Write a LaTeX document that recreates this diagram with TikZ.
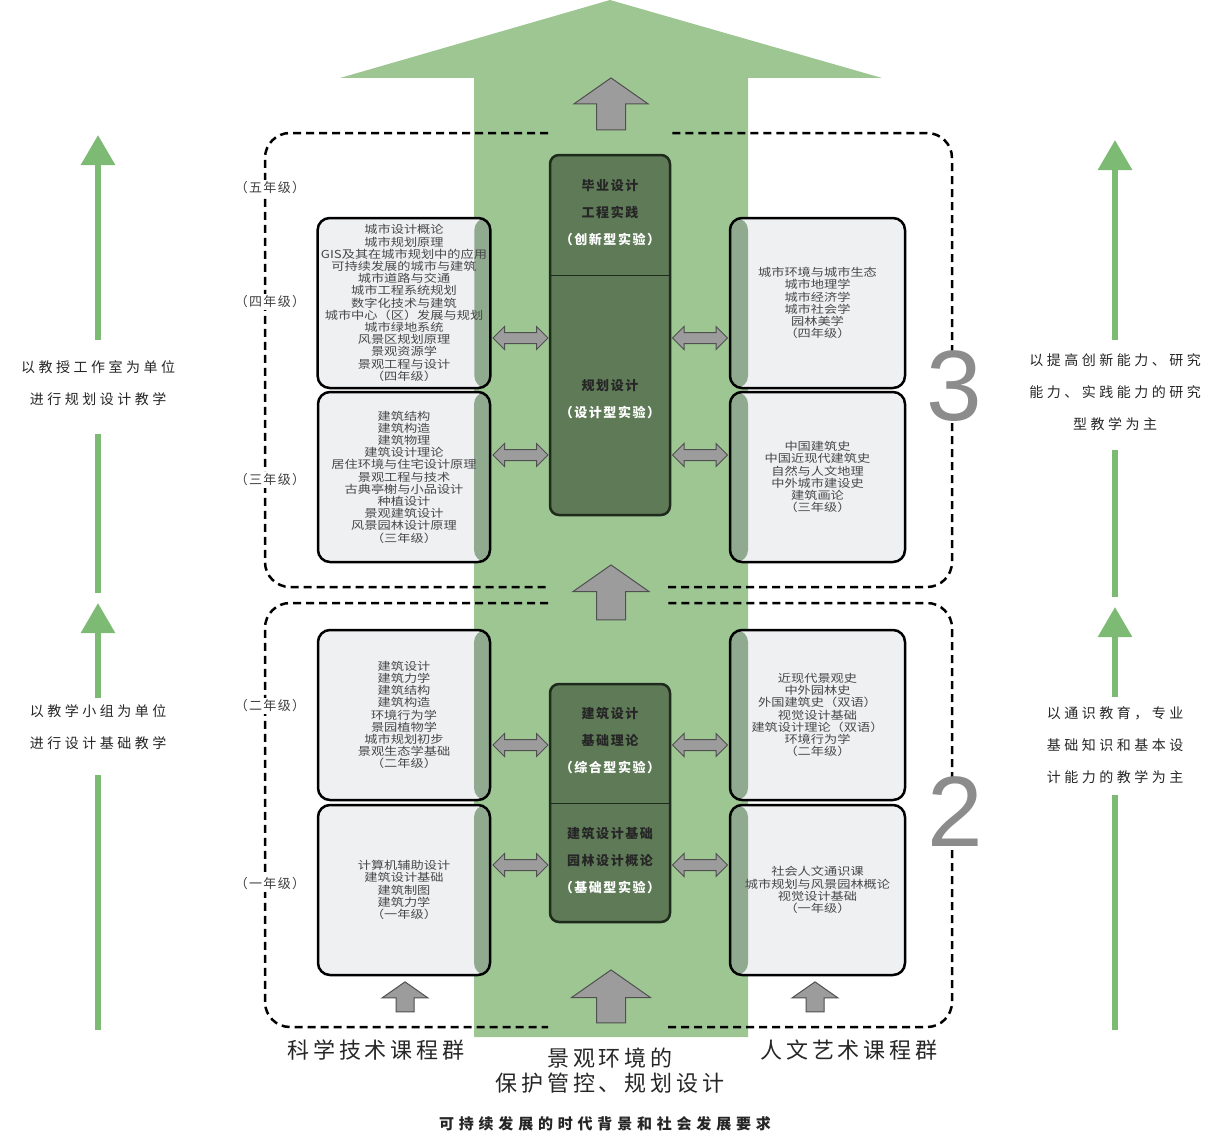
\documentclass[tikz,border=0pt]{standalone}
\usepackage{fontspec}
\setmainfont{Noto Sans CJK SC}
\newfontfamily\boxfont[FakeStretch=1.2]{Noto Sans CJK SC}
\newfontfamily\numfont{Liberation Sans}
\usetikzlibrary{arrows.meta,positioning,shapes.arrows}
\newcommand\spaced[1]{\addfontfeature{LetterSpace=#1}}
\definecolor{bigGreen}{HTML}{9EC693}
\definecolor{sideGreen}{HTML}{7DBB74}
\definecolor{ovlGreen}{HTML}{8FAA8F}
\definecolor{boxGray}{HTML}{EEF0F2}
\definecolor{boxText}{HTML}{484848}
\definecolor{coreGreen}{HTML}{5E7A56}
\definecolor{coreLine}{HTML}{1E2A1C}
\definecolor{arrGray}{HTML}{9C9C9C}
\definecolor{arrLine}{HTML}{505050}
\definecolor{numGray}{HTML}{8C8C8C}

\begin{document}
\begin{tikzpicture}[
  x=1pt, y=-1pt,
  lbox/.style={draw, line width=2.5pt, rounded corners=12pt, fill=boxGray,
               outer sep=0pt, minimum width=172pt, minimum height=170pt,
               align=center, text=boxText,
               font=\boxfont\fontsize{11}{12.2}\selectfont},
  rbox/.style={lbox, minimum width=175pt},
  inR/.style={path picture={\fill[ovlGreen]
     ([xshift=-16pt]path picture bounding box.south east)
     rectangle (path picture bounding box.north east);}},
  inL/.style={path picture={\fill[ovlGreen]
     (path picture bounding box.south west)
     rectangle ([xshift=18pt]path picture bounding box.north west);}},
  core/.style={draw=coreLine, line width=2.5pt, rounded corners=9pt,
               fill=coreGreen, minimum width=120pt, outer sep=0pt},
  ctext/.style={align=center, text=black!85,
                font=\fontsize{13}{27}\selectfont\bfseries\spaced{12}},
  grade/.style={fill=white, inner sep=2pt, text=black!75,
                font=\fontsize{13}{15}\selectfont\spaced{10}},
  side/.style={align=center, text=black!85,
               font=\fontsize{14}{32}\selectfont\spaced{25}},
  group/.style={align=center, text=black!85, inner sep=0pt,
                font=\fontsize{22}{25}\selectfont\spaced{18}},
  bignum/.style={fill=white, inner sep=0pt, text=numGray,
                 font=\numfont\fontsize{100}{100}\selectfont},
  dashbox/.style={line width=2.5pt, dash pattern=on 8pt off 5pt,
                  rounded corners=25pt},
  garr/.style={single arrow, draw=arrLine, fill=arrGray, line width=1pt,
               rotate=90, inner xsep=0pt, outer sep=0pt,
               single arrow head indent=0pt, single arrow tip angle=110},
  dblarr/.style={double arrow, draw=arrLine, fill=arrGray, line width=1pt,
                 inner xsep=0pt, inner ysep=5pt, outer sep=0pt,
                 minimum height=55pt, double arrow head extend=6pt,
                 double arrow head indent=0pt},
  sideline/.style={draw=sideGreen, line width=6pt},
  sidearr/.style={sideline, -{Triangle[width=33pt,length=30pt]}},
]
  \useasboundingbox (0,0) rectangle (1217,1145);

  % big green background arrow
  \fill[bigGreen] (474,1037) -- (474,78) -- (340,78) -- (610,0)
    -- (882,78) -- (748,78) -- (748,1037) -- cycle;

  % side arrows, left
  \coordinate (lb0) at (98,1030); \coordinate (lb1) at (98,775);
  \coordinate (lb2) at (98,698);  \coordinate (lb3) at (98,603);
  \coordinate (lb4) at (98,593);  \coordinate (lb5) at (98,434);
  \coordinate (lb6) at (98,340);  \coordinate (lb7) at (98,135);
  \draw[sideline] (lb0) -- (lb1);
  \draw[sidearr] (lb2) -- (lb3);
  \draw[sideline] (lb4) -- (lb5);
  \draw[sidearr] (lb6) -- (lb7);
  % side arrows, right
  \coordinate (rb0) at (1115,1030); \coordinate (rb1) at (1115,795);
  \coordinate (rb2) at (1115,697);  \coordinate (rb3) at (1115,607);
  \coordinate (rb4) at (1115,597);  \coordinate (rb5) at (1115,450);
  \coordinate (rb6) at (1115,340);  \coordinate (rb7) at (1115,140);
  \draw[sideline] (rb0) -- (rb1);
  \draw[sidearr] (rb2) -- (rb3);
  \draw[sideline] (rb4) -- (rb5);
  \draw[sidearr] (rb6) -- (rb7);

  % dashed stage frames
  \draw[dashbox] (548,133) -- (265,133) -- (265,587) -- (548,587)
    (668,587) -- (952,587) -- (952,133) -- (668,133);
  \draw[dashbox] (548,603) -- (265,603) -- (265,1027) -- (548,1027)
    (668,1027) -- (952,1027) -- (952,603) -- (668,603);

  % left course boxes
  \node[lbox, inR] (L4) at (404,303) {城市设计概论\\城市规划原理\\GIS及其在城市规划中的应用\\可持续发展的城市与建筑\\城市道路与交通\\城市工程系统规划\\数字化技术与建筑\\城市中心（区）发展与规划\\城市绿地系统\\风景区规划原理\\景观资源学\\景观工程与设计\\（四年级）};
  \node[lbox, inR] (L3) at (404,477) {建筑结构\\建筑构造\\建筑物理\\建筑设计理论\\居住环境与住宅设计原理\\景观工程与技术\\古典亭榭与小品设计\\种植设计\\景观建筑设计\\风景园林设计原理\\（三年级）};
  \node[lbox, inR] (L2) at (404,715) {建筑设计\\建筑力学\\建筑结构\\建筑构造\\环境行为学\\景园植物学\\城市规划初步\\景观生态学基础\\（二年级）};
  \node[lbox, inR] (L1) at (404,890) {计算机辅助设计\\建筑设计基础\\建筑制图\\建筑力学\\（一年级）};

  % right course boxes
  \node[rbox, inL] (R4) at (817.5,303) {城市环境与城市生态\\城市地理学\\城市经济学\\城市社会学\\园林美学\\（四年级）};
  \node[rbox, inL] (R3) at (817.5,477) {中国建筑史\\中国近现代建筑史\\自然与人文地理\\中外城市建设史\\建筑画论\\（三年级）};
  \node[rbox, inL] (R2) at (817.5,715) {近现代景观史\\中外园林史\\外国建筑史（双语）\\视觉设计基础\\建筑设计理论（双语）\\环境行为学\\（二年级）};
  \node[rbox, inL] (R1) at (817.5,890) {社会人文通识课\\城市规划与风景园林概论\\视觉设计基础\\（一年级）};

  % core design boxes
  \node[core, minimum height=360pt] (P3) at (610,335) {};
  \coordinate (d3) at (0,275);
  \draw[coreLine, line width=1pt] (P3.west |- d3) -- (P3.east |- d3);
  \node[ctext] (T5) at (610,213) {毕业设计\\工程实践\\\textcolor{white}{（创新型实验）}};
  \node[ctext] (T4) at (610,399) {规划设计\\\textcolor{white}{（设计型实验）}};

  \node[core, minimum height=238pt] (P2) at (610,803) {};
  \coordinate (d2) at (0,803);
  \draw[coreLine, line width=1pt] (P2.west |- d2) -- (P2.east |- d2);
  \node[ctext] (T2) at (610,741) {建筑设计\\基础理论\\\textcolor{white}{（综合型实验）}};
  \node[ctext] (T1) at (610,861) {建筑设计基础\\园林设计概论\\\textcolor{white}{（基础型实验）}};

  % exchange arrows
  \node[dblarr] (xl4) at (520.5,338) {};
  \node[dblarr] (xl3) at (520.5,455) {};
  \node[dblarr] (xl2) at (520.5,745) {};
  \node[dblarr] (xl1) at (520.5,865) {};
  \node[dblarr] (xr4) at (700,338) {};
  \node[dblarr] (xr3) at (700,455) {};
  \node[dblarr] (xr2) at (700,745) {};
  \node[dblarr] (xr1) at (700,865) {};

  % upward grey arrows
  \node[garr, minimum height=52pt, inner ysep=14pt,
        single arrow head extend=22.5pt] (up3) at (611,109) {};
  \node[garr, minimum height=55pt, inner ysep=14pt,
        single arrow head extend=23.5pt] (up2) at (611,597.5) {};
  \node[garr, minimum height=53pt, inner ysep=14pt,
        single arrow head extend=25pt] (up1) at (611,1001.5) {};
  \node[garr, minimum height=30pt, inner ysep=8.5pt,
        single arrow head extend=14pt] (upl) at (405,1000) {};
  \node[garr, minimum height=30pt, inner ysep=8.5pt,
        single arrow head extend=14pt] (upr) at (815,1000) {};

  % year labels
  \node[grade] (g5) at (270,188) {（五年级）};
  \node[grade] (g4) at (270,302) {（四年级）};
  \node[grade] (g3) at (270,480) {（三年级）};
  \node[grade] (g2) at (270,706) {（二年级）};
  \node[grade] (g1) at (270,884) {（一年级）};

  % stage numbers
  \node[bignum] (n3) at (954,386) {3};
  \node[bignum] (n2) at (955,812) {2};

  % teaching modes
  \node[side] (sl3) at (98,383.5) {以教授工作室为单位\\进行规划设计教学};
  \node[side] (sl2) at (98,727) {以教学小组为单位\\进行设计基础教学};
  \node[side] (sr3) at (1115,392) {以提高创新能力、研究\\能力、实践能力的研究\\型教学为主};
  \node[side] (sr2) at (1115,745) {以通识教育，专业\\基础知识和基本设\\计能力的教学为主};

  % course groups
  \node[group] (sci) at (376,1050) {科学技术课程群};
  \node[group] (art) at (849,1050) {人文艺术课程群};
  \node[group] (land) at (610,1071) {景观环境的\\保护管控、规划设计};
  \node[font=\fontsize{15}{17}\selectfont\bfseries\spaced{32},
        text=black!85] (bg) at (605,1124) {可持续发展的时代背景和社会发展要求};
\end{tikzpicture}
\end{document}
